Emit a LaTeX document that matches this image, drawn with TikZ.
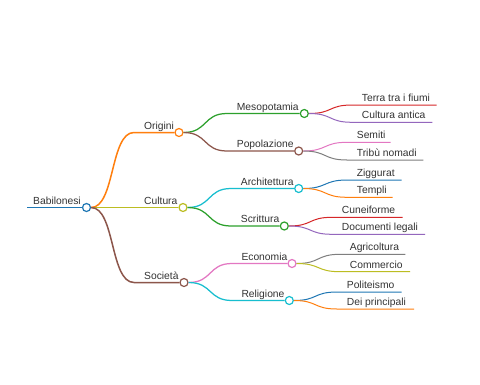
\documentclass[tikz,border=0pt]{standalone}
\usepackage{fontspec}
\setmainfont{Liberation Sans}
\usetikzlibrary{calc}

\definecolor{cBlue}{HTML}{1F77B4}
\definecolor{cOrange}{HTML}{FF7F0E}
\definecolor{cGreen}{HTML}{2CA02C}
\definecolor{cRed}{HTML}{D62728}
\definecolor{cPurple}{HTML}{9467BD}
\definecolor{cBrown}{HTML}{8C564B}
\definecolor{cPink}{HTML}{E377C2}
\definecolor{cGray}{HTML}{7F7F7F}
\definecolor{cOlive}{HTML}{BCBD22}
\definecolor{cCyan}{HTML}{17BECF}
\definecolor{txt}{HTML}{333333}

\begin{document}
\begin{tikzpicture}[x=1pt, y=-1pt,
  lbl/.style={anchor=base west, inner sep=0pt, text=txt, font=\fontsize{10.3}{12}\selectfont},
  dot/.style={circle, minimum size=8pt, inner sep=0pt, fill=white, line width=1.2pt},
  lvzero/.style={line width=1.8pt},
  lvone/.style={line width=1.5pt},
  lvtwo/.style={line width=1.25pt},
  leaf/.style={line width=1pt},
  link/.style={to path={.. controls ($(\tikztostart)+(24,0)$) and ($(\tikztotarget)+(-24,0)$) .. (\tikztotarget)}}]
\path[fill=white] (0,0) rectangle (480,384);

% root
\coordinate (s-root) at (27,207.5);
\node[dot, draw=cBlue] (c-root) at (86.5,207.5) {};
\node[lbl] (t-root) at (33,204) {Babilonesi};
\draw[lvzero, cBlue] (s-root) -- (c-root.west);

% first level
\coordinate (s-origini) at (134,132.5);
\coordinate (s-cultura) at (134,207.5);
\coordinate (s-societa) at (134,282.5);
\node[dot, draw=cOrange] (c-origini) at (179,132.5) {};
\node[dot, draw=cOlive] (c-cultura) at (183,207.5) {};
\node[dot, draw=cBrown] (c-societa) at (184,282.5) {};
\node[lbl] (t-origini) at (144,129) {Origini};
\node[lbl] (t-cultura) at (144,204) {Cultura};
\node[lbl] (t-societa) at (144,279) {Società};
\draw[lvone, cOrange] (c-root.east) to[link] (s-origini) -- (c-origini.west);
\draw[lvone, cOlive] (c-root.east) to[link] (s-cultura) -- (c-cultura.west);
\draw[lvone, cBrown] (c-root.east) to[link] (s-societa) -- (c-societa.west);

% second level
\coordinate (s-meso) at (227,113.5);
\coordinate (s-popo) at (227,151);
\coordinate (s-arch) at (231,188.5);
\coordinate (s-scri) at (231,226);
\coordinate (s-econ) at (232,263.5);
\coordinate (s-reli) at (232,300.5);
\node[dot, draw=cGreen] (c-meso) at (304.3,113.5) {};
\node[dot, draw=cBrown] (c-popo) at (298.7,151) {};
\node[dot, draw=cCyan] (c-arch) at (298.7,188.5) {};
\node[dot, draw=cGreen] (c-scri) at (284.3,226) {};
\node[dot, draw=cPink] (c-econ) at (292,263.5) {};
\node[dot, draw=cCyan] (c-reli) at (289.3,300.5) {};
\node[lbl] (t-meso) at (236.7,110) {Mesopotamia};
\node[lbl] (t-popo) at (236.7,147.5) {Popolazione};
\node[lbl] (t-arch) at (240.7,185) {Architettura};
\node[lbl] (t-scri) at (240.7,222.5) {Scrittura};
\node[lbl] (t-econ) at (241.3,260) {Economia};
\node[lbl] (t-reli) at (241.3,297) {Religione};
\draw[lvtwo, cGreen] (c-origini.east) to[link] (s-meso) -- (c-meso.west);
\draw[lvtwo, cBrown] (c-origini.east) to[link] (s-popo) -- (c-popo.west);
\draw[lvtwo, cCyan] (c-cultura.east) to[link] (s-arch) -- (c-arch.west);
\draw[lvtwo, cGreen] (c-cultura.east) to[link] (s-scri) -- (c-scri.west);
\draw[lvtwo, cPink] (c-societa.east) to[link] (s-econ) -- (c-econ.west);
\draw[lvtwo, cCyan] (c-societa.east) to[link] (s-reli) -- (c-reli.west);

% leaves
\coordinate (s-terra) at (352,105);    \coordinate (e-terra) at (436.7,105);
\coordinate (s-antica) at (352,122.3); \coordinate (e-antica) at (432.3,122.3);
\coordinate (s-semiti) at (347,142.3); \coordinate (e-semiti) at (390.7,142.3);
\coordinate (s-tribu) at (347,160);    \coordinate (e-tribu) at (423.3,160);
\coordinate (s-zigg) at (347,180);     \coordinate (e-zigg) at (401.7,180);
\coordinate (s-templi) at (347,197.3); \coordinate (e-templi) at (392.7,197.3);
\coordinate (s-cune) at (332,217.3);   \coordinate (e-cune) at (402.7,217.3);
\coordinate (s-docu) at (332,234.3);   \coordinate (e-docu) at (425,234.3);
\coordinate (s-agri) at (340,254.3);   \coordinate (e-agri) at (405.3,254.3);
\coordinate (s-comm) at (340,271.7);   \coordinate (e-comm) at (410,271.7);
\coordinate (s-poli) at (337,292);     \coordinate (e-poli) at (401.7,292);
\coordinate (s-dei) at (337,309);      \coordinate (e-dei) at (414,309);
\node[lbl] (t-terra) at (361.7,101.5) {Terra tra i fiumi};
\node[lbl] (t-antica) at (361.7,118.8) {Cultura antica};
\node[lbl] (t-semiti) at (356.7,138.8) {Semiti};
\node[lbl] (t-tribu) at (356.7,156.5) {Tribù nomadi};
\node[lbl] (t-zigg) at (356.7,176.5) {Ziggurat};
\node[lbl] (t-templi) at (356.7,193.8) {Templi};
\node[lbl] (t-cune) at (341.7,213.8) {Cuneiforme};
\node[lbl] (t-docu) at (341.7,230.8) {Documenti legali};
\node[lbl] (t-agri) at (349.7,250.8) {Agricoltura};
\node[lbl] (t-comm) at (349.7,268.2) {Commercio};
\node[lbl] (t-poli) at (346.7,288.5) {Politeismo};
\node[lbl] (t-dei) at (346.7,305.5) {Dei principali};
\draw[leaf, cRed] (c-meso.east) to[link] (s-terra) -- (e-terra);
\draw[leaf, cPurple] (c-meso.east) to[link] (s-antica) -- (e-antica);
\draw[leaf, cPink] (c-popo.east) to[link] (s-semiti) -- (e-semiti);
\draw[leaf, cGray] (c-popo.east) to[link] (s-tribu) -- (e-tribu);
\draw[leaf, cBlue] (c-arch.east) to[link] (s-zigg) -- (e-zigg);
\draw[leaf, cOrange] (c-arch.east) to[link] (s-templi) -- (e-templi);
\draw[leaf, cRed] (c-scri.east) to[link] (s-cune) -- (e-cune);
\draw[leaf, cPurple] (c-scri.east) to[link] (s-docu) -- (e-docu);
\draw[leaf, cGray] (c-econ.east) to[link] (s-agri) -- (e-agri);
\draw[leaf, cOlive] (c-econ.east) to[link] (s-comm) -- (e-comm);
\draw[leaf, cBlue] (c-reli.east) to[link] (s-poli) -- (e-poli);
\draw[leaf, cOrange] (c-reli.east) to[link] (s-dei) -- (e-dei);
\end{tikzpicture}
\end{document}
